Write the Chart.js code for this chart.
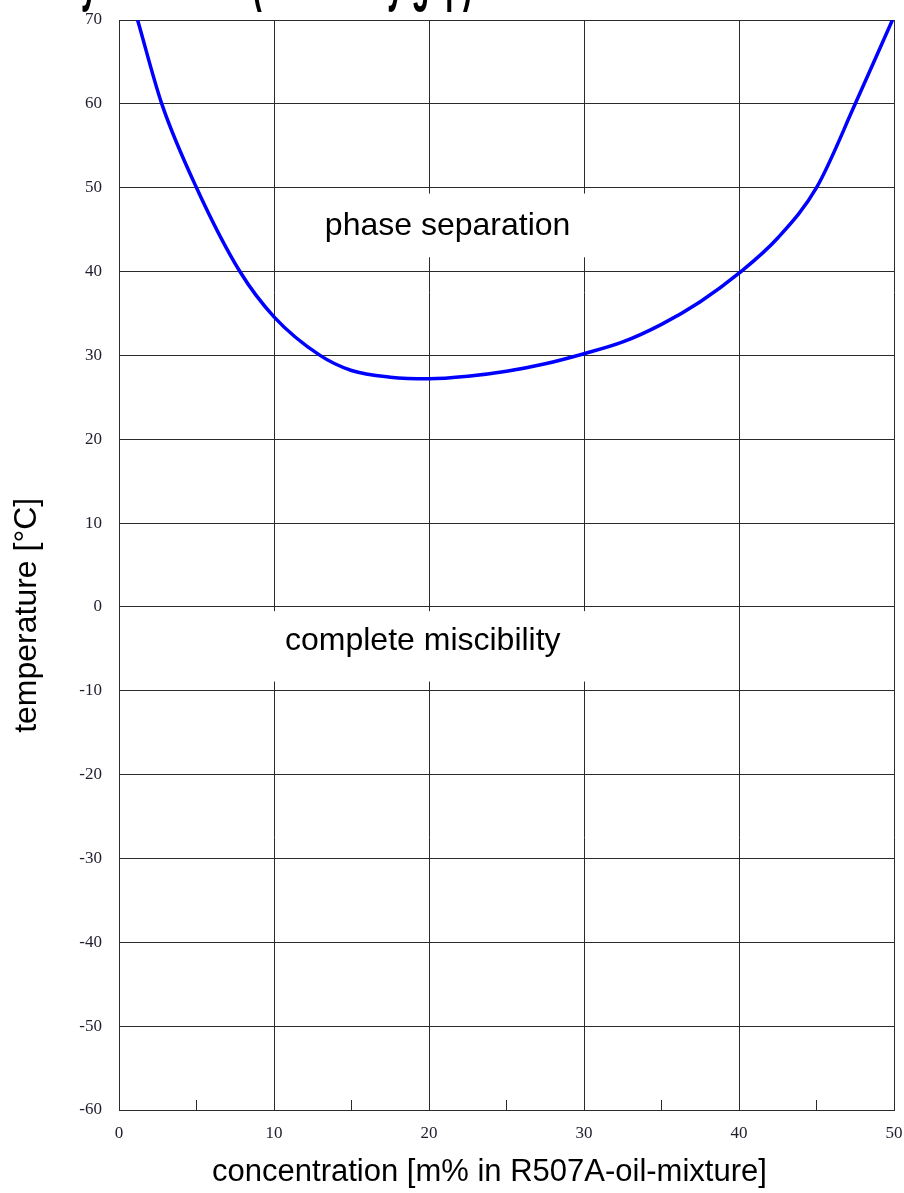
<!DOCTYPE html>
<html>
<head>
<meta charset="utf-8">
<script src="https://cdn.jsdelivr.net/npm/chart.js@4/dist/chart.umd.min.js"></script>
<style>
  html, body { margin: 0; padding: 0; background: #fff; overflow: hidden; }
  #wrap { position: relative; width: 904px; height: 1193px; }
  #clipTitle {
    position: absolute; left: -43px; top: -24.5px;
    font: bold 29px "Liberation Sans", Arial, sans-serif; line-height: 29px;
    white-space: nowrap; color: #000;
    transform: scaleY(2.2); transform-origin: 0 24.5px; z-index: 2;
  }
</style>
</head>
<body>
<div id="wrap">
  <div id="clipTitle">Miscibility behaviour (miscibility gap)</div>
  <canvas id="c" width="904" height="1193"></canvas>
</div>
<script>
// ---- data ----
const concentration = [1.2, 2.76, 5.0, 7.8, 10, 12.97, 15, 17.5, 20, 22.5, 25, 27.5, 30, 32.5, 35, 37.5, 40, 42.5, 45, 47.5, 49.9];
const temperature   = [70, 60, 50, 40, 34.6, 30, 28.2, 27.4, 27.2, 27.5, 28.1, 29.0, 30.2, 31.6, 33.7, 36.4, 39.8, 44.0, 50, 60, 70];
const xTicks = [0, 10, 20, 30, 40, 50];
const yRange = [-60, 70];
const xRange = [0, 50];
const regionLabels = ["phase separation", "complete miscibility"];
const axisTitles = ["concentration [m% in R507A-oil-mixture]", "temperature [°C]"];

const points = concentration.map((c, i) => ({ x: c, y: temperature[i] }));

// annotation placement (in data units)
const boxes = [
  { text: regionLabels[0], cx: 21.2, cy: 45.4, x0: 11.7, x1: 30.7, y0: 41.7, y1: 49.3 },
  { text: regionLabels[1], cx: 19.6, cy: -4.05, x0: 9.2, x1: 30.5, y0: -8.9, y1: -0.5 }
];

const GRID = '#2b2b2b';
const TICKC = '#1e1e2e';

const annotPlugin = {
  id: 'annot',
  beforeDatasetsDraw(chart) {
    const { ctx, scales: { x, y } } = chart;
    ctx.save();
    boxes.forEach(b => {
      const l = x.getPixelForValue(b.x0), r = x.getPixelForValue(b.x1);
      const t = y.getPixelForValue(b.y1), bt = y.getPixelForValue(b.y0);
      ctx.fillStyle = '#fff';
      ctx.fillRect(l, t, r - l, bt - t);
      ctx.fillStyle = '#000';
      ctx.font = '32px "Liberation Sans", Arial, sans-serif';
      ctx.textAlign = 'center';
      ctx.textBaseline = 'middle';
      ctx.fillText(b.text, x.getPixelForValue(b.cx), y.getPixelForValue(b.cy));
    });
    ctx.restore();
  },
  afterDraw(chart) {
    const { ctx, scales: { x, y } } = chart;
    ctx.save();
    ctx.fillStyle = '#000';
    ctx.textAlign = 'center';
    ctx.textBaseline = 'alphabetic';
    ctx.font = '31px "Liberation Sans", Arial, sans-serif';
    ctx.fillText(axisTitles[0], x.getPixelForValue(23.9), 1181);
    ctx.font = '32px "Liberation Sans", Arial, sans-serif';
    ctx.translate(36, y.getPixelForValue(-1));
    ctx.rotate(-Math.PI / 2);
    ctx.fillText(axisTitles[1], 0, 0);
    ctx.restore();
  }
};

new Chart(document.getElementById('c'), {
  type: 'line',
  data: {
    datasets: [{
      data: points,
      borderColor: '#0000ff',
      borderWidth: 3.5,
      pointRadius: 0,
      fill: false,
      cubicInterpolationMode: 'monotone'
    }]
  },
  options: {
    responsive: false,
    animation: false,
    layout: { padding: { top: 20, right: 10, left: 0, bottom: 0 } },
    plugins: { legend: { display: false }, tooltip: { enabled: false }, title: { display: false } },
    scales: {
      x: {
        type: 'linear',
        min: xRange[0], max: xRange[1],
        offset: false,
        afterFit(s) { s.height = 83; s.paddingLeft = 0; s.paddingRight = 0; },
        ticks: {
          stepSize: 5, autoSkip: false, maxRotation: 0,
          padding: 23,
          color: TICKC,
          font: { family: '"Liberation Serif", "Times New Roman", serif', size: 17 },
          callback: v => (xTicks.includes(v) ? String(v) : '')
        },
        grid: {
          color: c => (c.tick && c.tick.value % 10 === 0 ? GRID : 'rgba(0,0,0,0)'),
          tickColor: GRID,
          lineWidth: 1,
          tickLength: -10,
          drawTicks: true
        },
        border: { display: true, color: GRID, width: 1 }
      },
      y: {
        type: 'linear',
        min: yRange[0], max: yRange[1],
        afterFit(s) { s.width = 119; s.paddingTop = 0; s.paddingBottom = 0; },
        ticks: {
          stepSize: 10,
          padding: 17,
          color: TICKC,
          font: { family: '"Liberation Serif", "Times New Roman", serif', size: 17 }
        },
        grid: { color: GRID, lineWidth: 1, drawTicks: false },
        border: { display: true, color: GRID, width: 1 }
      }
    }
  },
  plugins: [annotPlugin]
});
</script>
</body>
</html>
